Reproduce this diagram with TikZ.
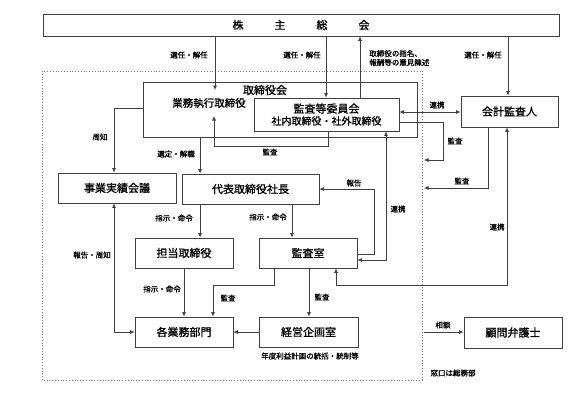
\documentclass[tikz,border=0pt]{standalone}
\usepackage{fontspec}
\setmainfont{Noto Sans CJK JP}[AutoFakeBold=1.2]
\usetikzlibrary{arrows.meta}
\begin{document}
\begin{tikzpicture}[x=1pt,y=-1pt,
  line width=0.7pt,
  box/.style={draw=black!75, fill=white, inner sep=0pt, font=\fontsize{11}{13}\selectfont\bfseries},
  lbl/.style={font=\fontsize{7.5}{9}\selectfont\bfseries, inner sep=0pt},
  con/.style={draw=black!75},
  arr/.style={con, -{Latex[length=4.5pt,width=4pt]}},
  darr/.style={con, {Latex[length=4.5pt,width=4pt]}-{Latex[length=4.5pt,width=4pt]}}
]
\useasboundingbox (0,0) rectangle (587,397);
% dotted company frame
\draw[black!55, dotted, line width=0.8pt] (42,71) rectangle (422,380);

% boxes
\node[box, minimum width=516pt, minimum height=22pt] (sh) at (301,25)
  {株\hspace{31pt}主\hspace{31pt}総\hspace{31pt}会};
\node[box, minimum width=274pt, minimum height=55pt] (board) at (280,109.5) {};
\node[box, inner sep=0pt, align=center, minimum width=145pt, minimum height=33pt] (ac) at (326.5,114.5)
  {監査等委員会\\[-1pt]\fontsize{10}{12}\selectfont 社内取締役・社外取締役};
\node[font=\fontsize{11}{13}\selectfont\bfseries, inner sep=0pt] (boardt) at (265,90) {取締役会};
\node[font=\fontsize{10.5}{12}\selectfont\bfseries, inner sep=0pt] (exec) at (209,103) {業務執行取締役};
\node[box, minimum width=97pt, minimum height=31pt] (ca) at (509.5,111.5) {会計監査人};
\node[box, minimum width=118pt, minimum height=30pt] (jg) at (117,188) {事業実績会議};
\node[box, minimum width=137pt, minimum height=30pt] (ceo) at (250.5,189) {代表取締役社長};
\node[box, minimum width=98pt, minimum height=30pt] (td) at (184,253) {担当取締役};
\node[box, minimum width=98pt, minimum height=30pt] (ka) at (308,253) {監査室};
\node[box, minimum width=98pt, minimum height=30pt] (gb) at (184,332) {各業務部門};
\node[box, minimum width=99pt, minimum height=30pt] (kk) at (308.5,332) {経営企画室};
\node[box, minimum width=98pt, minimum height=31pt] (lw) at (513,332.5) {顧問弁護士};

% free-end coordinates
\coordinate (execin) at (215,90);
\coordinate (execbot) at (214,116);
\coordinate (frA) at (424,160);
\coordinate (frB) at (424,188);
\coordinate (frC) at (424,332);

% connectors
\draw[arr] (215,0 |- sh.south) -- (execin);
\draw[arr] (326,0 |- sh.south) -- (326,0 |- ac.north);
\draw[arr] (360,0 |- ac.north) -- (360,0 |- sh.south);
\draw[arr] (508,0 |- sh.south) -- (508,0 |- ca.north);
\draw[darr] (ac.east |- 0,112) -- (ca.west |- 0,112);
\draw[arr] (ac.east |- 0,122) -- (443,122) -- (443,0 |- frA) -- (frA);
\draw[arr] (488,0 |- ca.south) -- (488,0 |- frB) -- (frB);
\draw[darr] (336,0 |- ka.south) -- (336,285) -- (507,285) -- (507,0 |- ca.south);
\draw[arr] (board.west |- 0,108) -- (114,108) -- (114,0 |- jg.north);
\draw[arr] (200,0 |- board.south) -- (200,0 |- ceo.north);
\draw[arr] (328,0 |- ac.south) -- (328,146) -- (214,146) -- (execbot);
\draw[darr] (386,0 |- ac.south) -- (386,260) -- (ka.east |- 0,260);
\draw[arr] (ka.east |- 0,254) -- (374,254) -- (374,189) -- (ceo.east |- 0,189);
\draw[arr] (200,0 |- ceo.south) -- (200,0 |- td.north);
\draw[arr] (292,0 |- ceo.south) -- (292,0 |- ka.north);
\draw[darr] (114,0 |- jg.south) -- (114,0 |- gb.west) -- (gb.west);
\draw[arr] (184,0 |- td.south) -- (184,0 |- gb.north);
\draw[arr] (274,0 |- ka.south) -- (274,285) -- (213,285) -- (213,0 |- gb.north);
\draw[arr] (309,0 |- ka.south) -- (309,0 |- kk.north);
\draw[arr] (kk.west) -- (gb.east);
\draw[arr] (frC) -- (lw.west |- frC);

% labels
\node[lbl] (l1) at (189,55) {選任・解任};
\node[lbl] (l2) at (302,55) {選任・解任};
\node[lbl] (l3) at (483,55) {選任・解任};
\node[lbl, anchor=west, align=left] (l4) at (369,58) {取締役の指名、\\報酬等の意見陳述};
\node[lbl] (l5) at (437,105) {連携};
\node[lbl] (l6) at (455,141) {監査};
\node[lbl] (l7) at (462,181) {監査};
\node[lbl] (l8) at (497,227) {連携};
\node[lbl] (l9) at (398,209) {連携};
\node[lbl] (l10) at (354,183) {報告};
\node[lbl] (l11) at (270,152) {監査};
\node[lbl] (l12) at (100,137) {周知};
\node[lbl] (l13) at (176,154) {選定・解職};
\node[lbl] (l14) at (174,218) {指示・命令};
\node[lbl] (l15) at (268,217) {指示・命令};
\node[lbl] (l16) at (92,255) {報告・周知};
\node[lbl] (l17) at (162,289) {指示・命令};
\node[lbl] (l18) at (228,298) {監査};
\node[lbl] (l19) at (322,297) {監査};
\node[lbl] (l20) at (310,356) {年度利益計画の統括・統制等};
\node[lbl] (l21) at (443,325) {相談};
\node[lbl] (l22) at (453,373) {窓口は総務部};
\end{tikzpicture}
\end{document}
